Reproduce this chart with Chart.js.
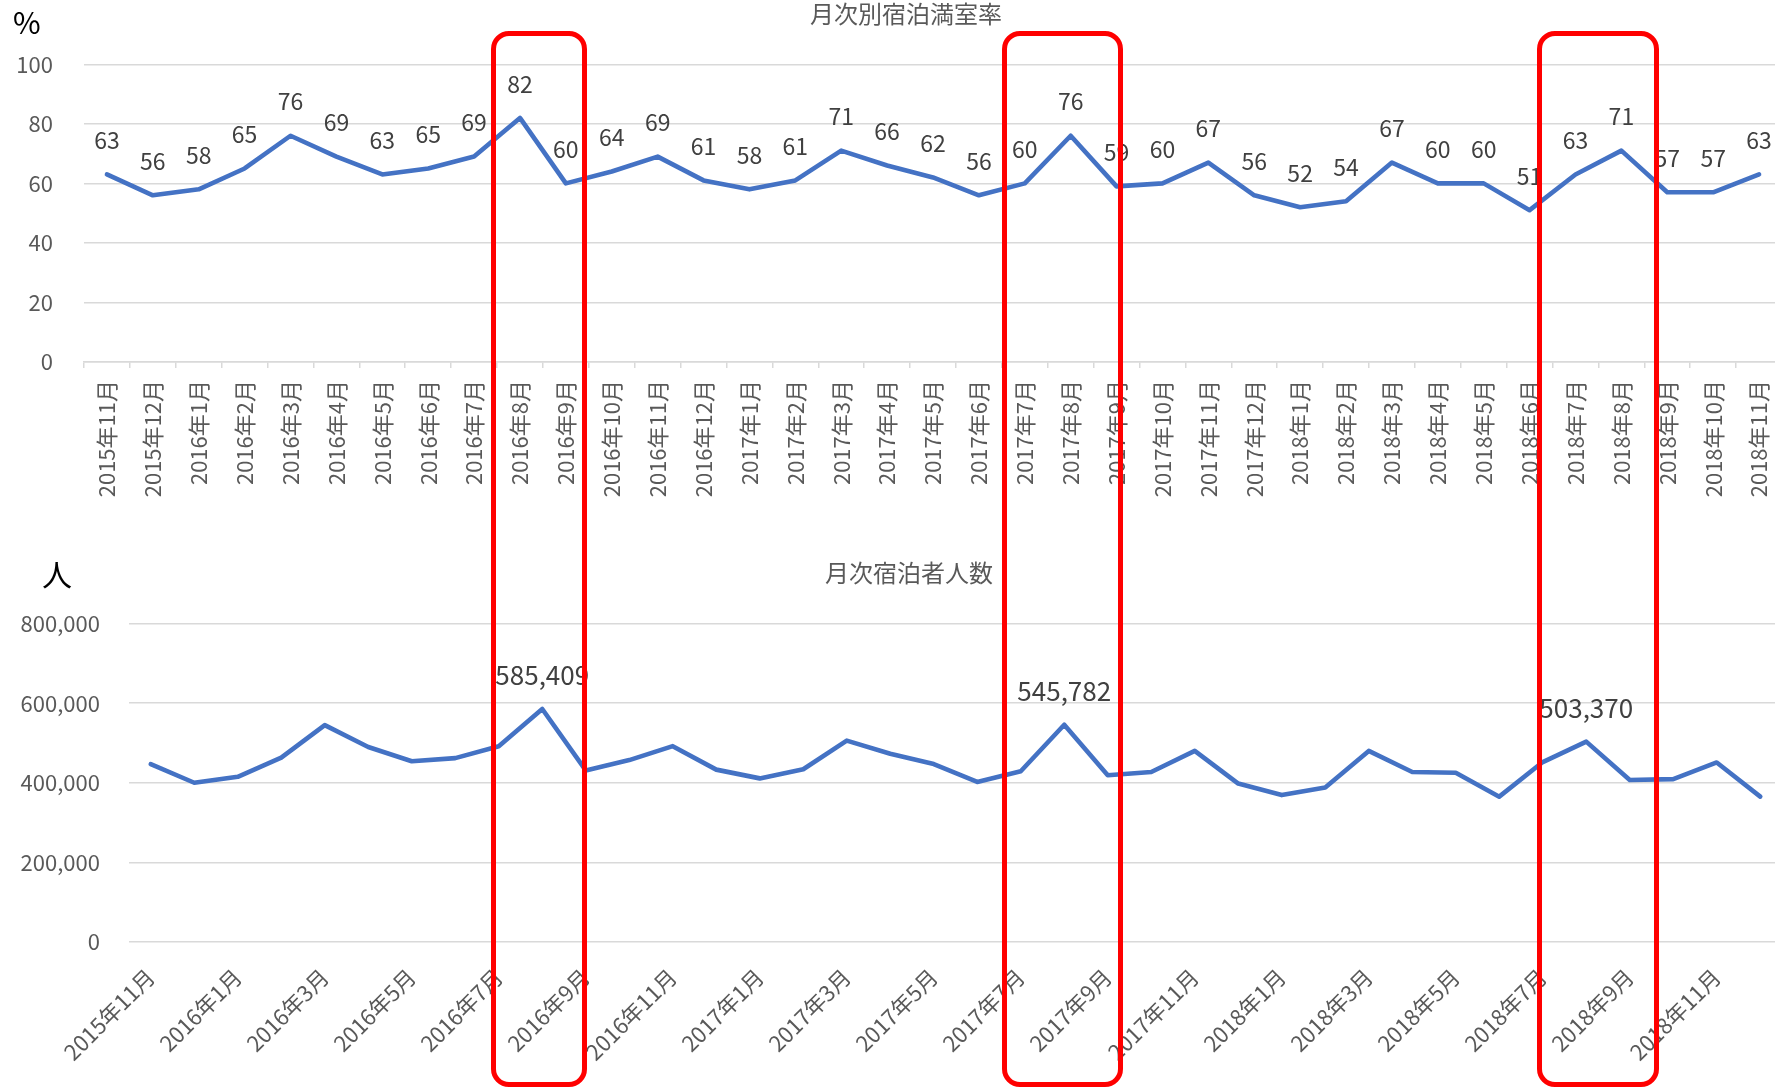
<!DOCTYPE html>
<html><head><meta charset="utf-8">
<script src="https://cdn.jsdelivr.net/npm/chart.js@4.4.0/dist/chart.umd.min.js"></script>
<style>
html,body{margin:0;padding:0;background:#fff;overflow:hidden;width:1775px;height:1088px;}
#wrap{position:relative;width:1775px;height:1088px;overflow:hidden;background:#fff;}
canvas{position:absolute;left:0;}
#c1{top:0;}
#c2{top:520px;}
.unit{position:absolute;font-family:"Noto Sans CJK JP","Noto Sans",sans-serif;color:#000;line-height:1;white-space:nowrap;}
.box{position:absolute;border:5px solid #ff0000;border-radius:18px;box-sizing:border-box;z-index:10;}
</style></head><body>
<div id="wrap">
<canvas id="c1" width="1782" height="520"></canvas>
<canvas id="c2" width="1782" height="568"></canvas>
<div class="unit" style="left:13px;top:6px;font-size:30px;">%</div>
<div class="unit" style="left:42px;top:558px;font-size:30px;">人</div>
<div class="box" style="left:491px;top:31px;width:96px;height:1056px;"></div>
<div class="box" style="left:1002px;top:31px;width:121px;height:1056px;"></div>
<div class="box" style="left:1537px;top:31px;width:122px;height:1056px;"></div>
</div>
<script>
// ---- data ----
const topTitle = '月次別宿泊満室率';
const bottomTitle = '月次宿泊者人数';
const topLabels = ['2015年11月','2015年12月','2016年1月','2016年2月','2016年3月','2016年4月','2016年5月','2016年6月','2016年7月','2016年8月','2016年9月','2016年10月','2016年11月','2016年12月','2017年1月','2017年2月','2017年3月','2017年4月','2017年5月','2017年6月','2017年7月','2017年8月','2017年9月','2017年10月','2017年11月','2017年12月','2018年1月','2018年2月','2018年3月','2018年4月','2018年5月','2018年6月','2018年7月','2018年8月','2018年9月','2018年10月','2018年11月'];
const occupancyRate = [63,56,58,65,76,69,63,65,69,82,60,64,69,61,58,61,71,66,62,56,60,76,59,60,67,56,52,54,67,60,60,51,63,71,57,57,63];
const bottomLabels = ['2015年11月','2015年12月','2016年1月','2016年2月','2016年3月','2016年4月','2016年5月','2016年6月','2016年7月','2016年8月','2016年9月','2016年10月','2016年11月','2016年12月','2017年1月','2017年2月','2017年3月','2017年4月','2017年5月','2017年6月','2017年7月','2017年8月','2017年9月','2017年10月','2017年11月','2017年12月','2018年1月','2018年2月','2018年3月','2018年4月','2018年5月','2018年6月','2018年7月','2018年8月','2018年9月','2018年10月','2018年11月','2018年12月'];
const guests = [447000,400000,415000,463000,545000,490000,454000,462000,492000,585409,431000,457000,492000,433000,411000,434000,506000,473000,447000,402000,429000,545782,419000,427000,480000,398000,369000,388000,480000,427000,425000,365000,452000,503370,407000,409000,451000,365000];
const guestsLabelled = [9,21,33];
const rateTicks = [0,20,40,60,80,100];
const guestTicks = [0,200000,400000,600000,800000];

// ---- style ----
const FAM = '"Noto Sans CJK JP","Noto Sans",sans-serif';
Chart.defaults.font.family = FAM;
const LINE = '#4472C4', GRID = '#d9d9d9', TXT = '#595959', LBL = '#404040';

const overlay = {
  id: 'overlay',
  afterDatasetsDraw(chart, args, o) {
    const ctx = chart.ctx;
    const meta = chart.getDatasetMeta(0);
    const data = chart.data.datasets[0].data;
    ctx.save();
    ctx.textAlign = 'center';
    ctx.textBaseline = 'middle';
    ctx.fillStyle = LBL;
    ctx.font = o.labelSize + 'px ' + FAM;
    meta.data.forEach((pt, i) => {
      if (o.only && !o.only.includes(i)) return;
      ctx.fillText(o.fmt(data[i]), pt.x, pt.y - o.offset);
    });
    ctx.fillStyle = TXT;
    ctx.font = o.titleSize + 'px ' + FAM;
    ctx.fillText(o.title, o.tx, o.ty);
    ctx.restore();
  }
};

const fmtNum = v => Number(v).toLocaleString('en-US');

new Chart(document.getElementById('c1'), {
  type: 'line',
  data: { labels: topLabels, datasets: [{ data: occupancyRate, borderColor: LINE, borderWidth: 4.6, pointRadius: 0, pointHoverRadius: 0, tension: 0, borderJoinStyle: 'round', borderCapStyle: 'round', fill: false }] },
  options: {
    responsive: false, animation: false, events: [],
    layout: { padding: { top: 64.3, left: 0, right: 0, bottom: 0 } },
    plugins: {
      legend: { display: false }, tooltip: { enabled: false },
      overlay: { title: topTitle, tx: 906, ty: 14, titleSize: 24, labelSize: 23, offset: 34, fmt: v => String(v) }
    },
    scales: {
      x: {
        offset: true,
        grid: { offset: true, drawOnChartArea: false, drawTicks: true, tickLength: 6, color: GRID, lineWidth: 1.5 },
        border: { display: true, color: GRID, width: 1.5 },
        ticks: { autoSkip: false, maxRotation: 90, minRotation: 90, padding: 12, color: TXT, font: { size: 22 } },
        afterFit(s) { s.height = 158; s.paddingLeft = 0; s.paddingRight = 0; }
      },
      y: {
        min: 0, max: 100,
        afterBuildTicks(s) { s.ticks = rateTicks.map(v => ({ value: v })); },
        ticks: { padding: 31, color: TXT, font: { size: 22 } },
        grid: { color: GRID, lineWidth: 1.5, drawTicks: false },
        border: { display: false },
        afterFit(s) { s.width = 84; s.paddingTop = 0; s.paddingBottom = 0; }
      }
    }
  },
  plugins: [overlay]
});

new Chart(document.getElementById('c2'), {
  type: 'line',
  data: { labels: bottomLabels, datasets: [{ data: guests, borderColor: LINE, borderWidth: 4.6, pointRadius: 0, pointHoverRadius: 0, tension: 0, borderJoinStyle: 'round', borderCapStyle: 'round', fill: false }] },
  options: {
    responsive: false, animation: false, events: [],
    layout: { padding: { top: 103.7, left: 0, right: 0, bottom: 0 } },
    plugins: {
      legend: { display: false }, tooltip: { enabled: false },
      overlay: { title: bottomTitle, tx: 909, ty: 53, titleSize: 24, labelSize: 26, offset: 34, only: guestsLabelled, fmt: fmtNum }
    },
    scales: {
      x: {
        offset: true,
        grid: { display: false },
        border: { display: false },
        ticks: { autoSkip: false, maxRotation: 45, minRotation: 45, padding: 14, color: TXT, font: { size: 22 },
          callback: (v, i) => (i % 2 === 0 ? bottomLabels[i] : '') },
        afterFit(s) { s.height = 146.2; s.paddingLeft = 0; s.paddingRight = 0; }
      },
      y: {
        min: 0, max: 800000,
        afterBuildTicks(s) { s.ticks = guestTicks.map(v => ({ value: v })); },
        ticks: { padding: 29, color: TXT, font: { size: 22 }, callback: v => fmtNum(v) },
        grid: { color: GRID, lineWidth: 1.5, drawTicks: false },
        border: { display: false },
        afterFit(s) { s.width = 129; s.paddingTop = 0; s.paddingBottom = 0; }
      }
    }
  },
  plugins: [overlay]
});
</script>
</body></html>
